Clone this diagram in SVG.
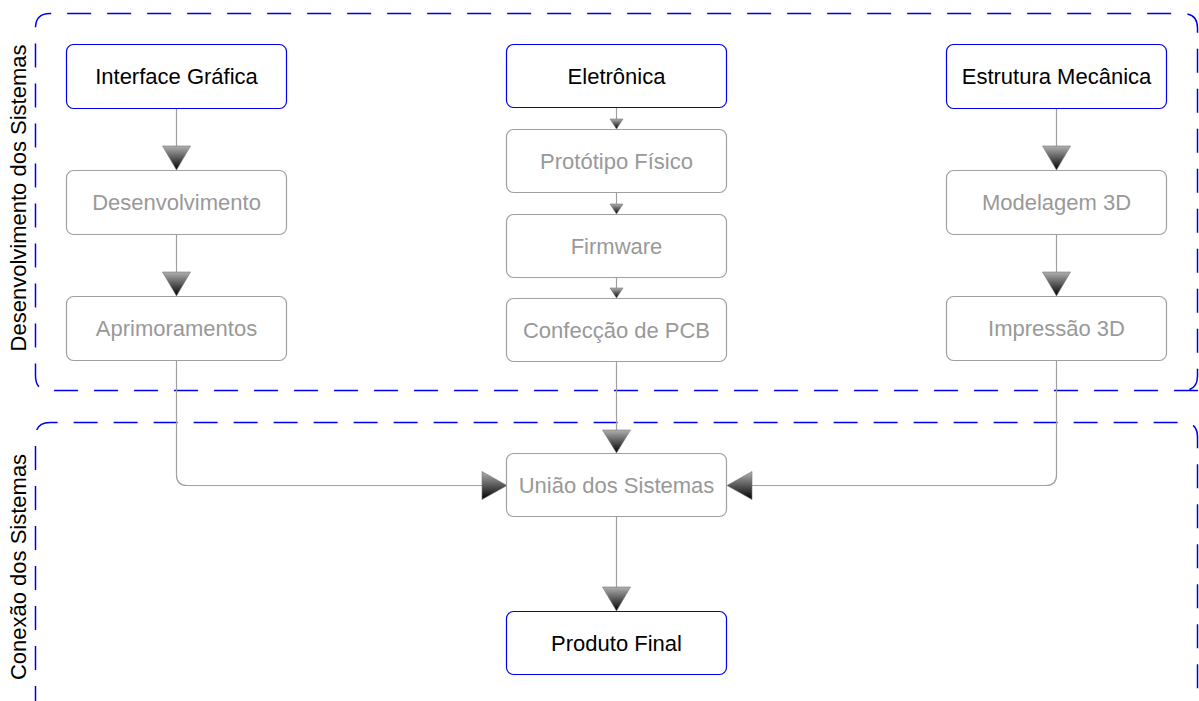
<svg xmlns="http://www.w3.org/2000/svg" width="1199" height="701" viewBox="0 0 1199 701">
  <defs>
    <linearGradient id="arrowFill" x1="0" y1="0" x2="0" y2="1">
      <stop offset="0" stop-color="#b0b0b0"/>
      <stop offset="1" stop-color="#000000"/>
    </linearGradient>
    <style>
      .lane { fill: none; stroke: #0000f0; stroke-width: 1.5; stroke-dasharray: 24 16; }
      .lane-label { font-family: "Liberation Sans", Arial, sans-serif; font-size: 22px; fill: #000; text-anchor: middle; }
      .box-main { fill: #fff; stroke: #0000f0; stroke-width: 1.2; }
      .box-step { fill: #fff; stroke: #a0a0a0; stroke-width: 1.2; }
      .t-main { font-family: "Liberation Sans", Arial, sans-serif; font-size: 22px; fill: #000; text-anchor: middle; }
      .t-step { font-family: "Liberation Sans", Arial, sans-serif; font-size: 22px; fill: #999; text-anchor: middle; }
      .link { fill: none; stroke: #a0a0a0; stroke-width: 1.2; }
      .head { fill: url(#arrowFill); stroke: #777; stroke-width: 0.6; }
    </style>
  </defs>

  <rect width="1199" height="701" fill="#fff"/>

  <!-- swimlanes -->
  <g id="lane-desenvolvimento">
    <path class="lane" d="M1198 390.5 H50 Q35.5 390.5 35.5 376 V28 Q35.5 13.5 50 13.5 H1183 Q1197.5 13.5 1197.5 28 V376 Q1197.5 390.5 1183 390.5"/>
    <text class="lane-label" transform="translate(26 198) rotate(-90)">Desenvolvimento dos Sistemas</text>
  </g>
  <g id="lane-conexao">
    <path class="lane" d="M35.5 710 V437 Q35.5 422.5 50 422.5 H1183 Q1197.5 422.5 1197.5 437 V710"/>
    <text class="lane-label" transform="translate(26 567) rotate(-90)">Conexão dos Sistemas</text>
  </g>

  <!-- connectors -->
  <g id="connectors">
    <path class="link" d="M176.5 108 V147"/>
    <path class="link" d="M176.5 234 V273"/>
    <path class="link" d="M1056.5 108 V147"/>
    <path class="link" d="M1056.5 234 V273"/>
    <path class="link" d="M616.5 108 V120"/>
    <path class="link" d="M616.5 193 V205"/>
    <path class="link" d="M616.5 278 V289"/>
    <path class="link" d="M616.5 362 V431"/>
    <path class="link" d="M176.5 360 V475 Q176.5 485.5 187 485.5 H483"/>
    <path class="link" d="M1056.5 360 V475 Q1056.5 485.5 1046 485.5 H751"/>
    <path class="link" d="M616.5 517 V588"/>

    <polygon class="head" points="162.5,146 190.5,146 176.5,170"/>
    <polygon class="head" points="162.5,272 190.5,272 176.5,296"/>
    <polygon class="head" points="1042.5,146 1070.5,146 1056.5,170"/>
    <polygon class="head" points="1042.5,272 1070.5,272 1056.5,296"/>
    <polygon class="head" points="610,119 623,119 616.5,129"/>
    <polygon class="head" points="610,204 623,204 616.5,214"/>
    <polygon class="head" points="610,288 623,288 616.5,298"/>
    <polygon class="head" points="602.5,430 630.5,430 616.5,453"/>
    <polygon class="head" points="482,471.5 507,485.5 482,499.5"/>
    <polygon class="head" points="752,471.5 727,485.5 752,499.5"/>
    <polygon class="head" points="602.5,587 630.5,587 616.5,611"/>
  </g>

  <!-- Interface Gráfica column -->
  <g id="node-interface">
    <rect class="box-main" x="66.5" y="44.5" width="220" height="64" rx="7"/>
    <text class="t-main" x="176.5" y="84">Interface Gráfica</text>
  </g>
  <g id="node-desenvolvimento">
    <rect class="box-step" x="66.5" y="170.5" width="220" height="64" rx="7"/>
    <text class="t-step" x="176.5" y="210">Desenvolvimento</text>
  </g>
  <g id="node-aprimoramentos">
    <rect class="box-step" x="66.5" y="296.5" width="220" height="64" rx="7"/>
    <text class="t-step" x="176.5" y="336">Aprimoramentos</text>
  </g>

  <!-- Eletrônica column -->
  <g id="node-eletronica">
    <rect class="box-main" x="506.5" y="44.5" width="220" height="63" rx="7"/>
    <text class="t-main" x="616.5" y="84">Eletrônica</text>
  </g>
  <g id="node-prototipo">
    <rect class="box-step" x="506.5" y="129.5" width="220" height="63" rx="7"/>
    <text class="t-step" x="616.5" y="169">Protótipo Físico</text>
  </g>
  <g id="node-firmware">
    <rect class="box-step" x="506.5" y="214.5" width="220" height="63" rx="7"/>
    <text class="t-step" x="616.5" y="254">Firmware</text>
  </g>
  <g id="node-pcb">
    <rect class="box-step" x="506.5" y="298.5" width="220" height="63" rx="7"/>
    <text class="t-step" x="616.5" y="338">Confecção de PCB</text>
  </g>

  <!-- Estrutura Mecânica column -->
  <g id="node-estrutura">
    <rect class="box-main" x="946.5" y="44.5" width="220" height="64" rx="7"/>
    <text class="t-main" x="1056.5" y="84">Estrutura Mecânica</text>
  </g>
  <g id="node-modelagem">
    <rect class="box-step" x="946.5" y="170.5" width="220" height="64" rx="7"/>
    <text class="t-step" x="1056.5" y="210">Modelagem 3D</text>
  </g>
  <g id="node-impressao">
    <rect class="box-step" x="946.5" y="296.5" width="220" height="64" rx="7"/>
    <text class="t-step" x="1056.5" y="336">Impressão 3D</text>
  </g>

  <!-- integration -->
  <g id="node-uniao">
    <rect class="box-step" x="506.5" y="453.5" width="220" height="63" rx="7"/>
    <text class="t-step" x="616.5" y="493">União dos Sistemas</text>
  </g>
  <g id="node-produto">
    <rect class="box-main" x="506.5" y="611.5" width="220" height="63" rx="7"/>
    <text class="t-main" x="616.5" y="651">Produto Final</text>
  </g>
</svg>
